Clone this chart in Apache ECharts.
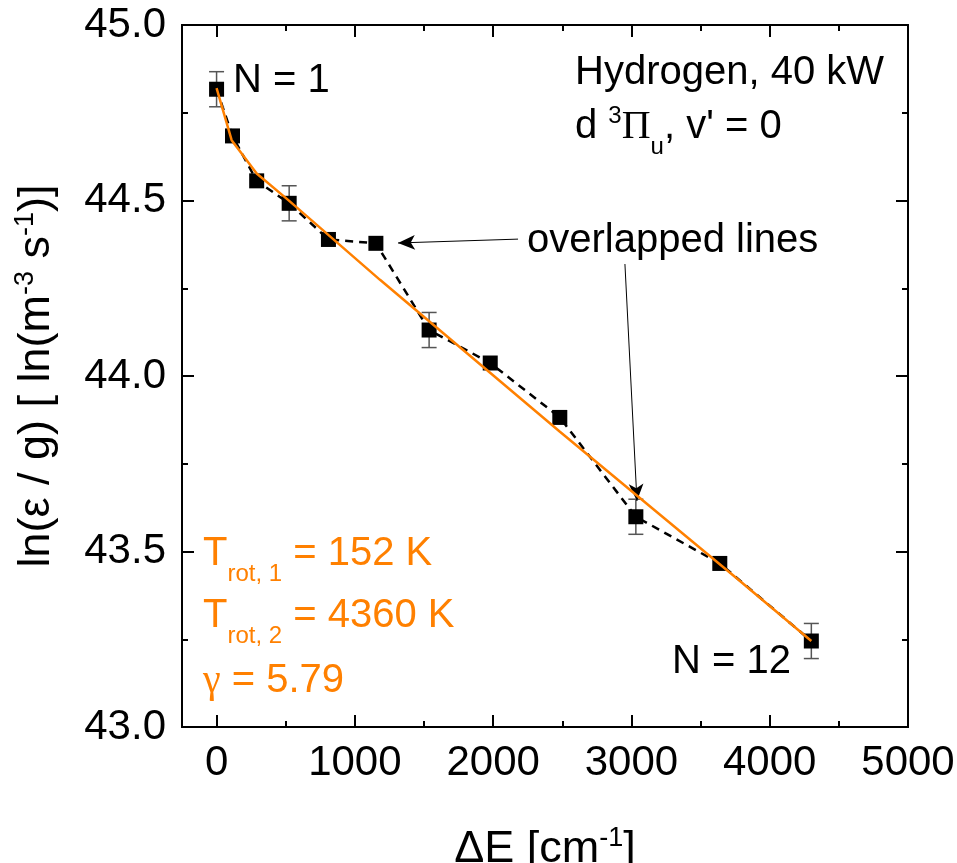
<html>
<head>
    <meta charset="utf-8">
    <script src="https://cdn.jsdelivr.net/npm/echarts@6.0.0/dist/echarts.min.js"></script>
    <style>
        html, body { margin: 0; padding: 0; background: #fff; }
        #main { width: 957px; height: 863px; }
    </style>
</head>
<body>
    <div id="main"></div>
    <script>
        // measured points, N = 1 ... 12
        var deltaE = [0, 115, 290, 525, 809, 1152, 1537, 1979, 2482, 3032, 3639, 4301];
        var lnEps = [44.817, 44.684, 44.556, 44.492, 44.389, 44.378, 44.131, 44.037, 43.882, 43.599, 43.466, 43.245];
        var errBar = [0.05, 0, 0, 0.05, 0, 0, 0.05, 0, 0, 0.05, 0, 0.05];

        // two-temperature fit (orange)
        var fitE = [0, 109, 290, 519, 1182, 2483, 3761, 4301];
        var fitLn = [44.82, 44.672, 44.577, 44.501, 44.274, 43.841, 43.424, 43.245];

        var xMajor = [0, 1000, 2000, 3000, 4000, 5000];
        var xMinor = [500, 1500, 2500, 3500, 4500];

        var FONT = 'Liberation Sans';
        var ORANGE = '#ff8000';

        var myChart = echarts.init(document.getElementById('main'));

        var points = deltaE.map(function (e, i) { return [e, lnEps[i]]; });
        var fit = fitE.map(function (e, i) { return [e, fitLn[i]]; });
        var bars = [];
        deltaE.forEach(function (e, i) {
            if (errBar[i] > 0) bars.push([e, lnEps[i] - errBar[i], lnEps[i] + errBar[i]]);
        });

        // rich styles for sub / superscripts (axis names use color, graphic text uses fill)
        function richSet(size, color, supSize, supPad) {
            function s(o) { o.color = color; o.fill = color; o.verticalAlign = 'top'; return o; }
            return {
                m: s({ fontSize: size, fontFamily: FONT, padding: [4, 0, 0, 0] }),
                g: s({ fontSize: size, fontFamily: 'Liberation Serif', padding: [4, 0, 0, 0] }),
                p: s({ fontSize: supSize || 24, fontFamily: FONT, padding: [supPad || 1, 0, 0, 0] }),
                b: s({ fontSize: 24, fontFamily: FONT, padding: [32, 0, 0, 0] })
            };
        }

        function xAxisCfg(pos, ticks, len, labels) {
            return {
                type: 'value', position: pos, min: -250, max: 5000,
                axisLine: { show: true, onZero: false, lineStyle: { color: '#000', width: 2 } },
                axisTick: { show: true, inside: true, length: len, customValues: ticks, lineStyle: { color: '#000', width: 2 } },
                axisLabel: labels ? {
                    show: true, customValues: ticks, fontSize: 42, fontFamily: FONT, color: '#000', margin: 15,
                    formatter: function (v) { return String(v); }
                } : { show: false },
                splitLine: { show: false }
            };
        }

        function yAxisCfg(pos, labels) {
            return {
                type: 'value', position: pos, min: 43, max: 45, interval: 0.5,
                axisLine: { show: true, onZero: false, lineStyle: { color: '#000', width: 2 } },
                axisTick: { show: true, inside: true, length: 12, lineStyle: { color: '#000', width: 2 } },
                minorTick: { show: true, splitNumber: 2, length: 6, lineStyle: { color: '#000', width: 2 } },
                axisLabel: labels ? {
                    show: true, fontSize: 42, fontFamily: FONT, color: '#000', margin: 16,
                    formatter: function (v) { return v.toFixed(1); }
                } : { show: false },
                splitLine: { show: false }
            };
        }

        var xBottom = xAxisCfg('bottom', xMajor, 12, true);
        xBottom.name = '{m|ΔE [cm}{p|-1}{m|]}';
        xBottom.nameLocation = 'middle';
        xBottom.nameGap = 96;
        xBottom.nameTextStyle = { rich: richSet(45, '#000', 27, 2) };

        var yLeft = yAxisCfg('left', true);
        yLeft.name = '{m|ln(ε / g) [ ln(m}{p|-3}{m| s}{p|-1}{m|)]}';
        yLeft.nameLocation = 'middle';
        yLeft.nameGap = 123;
        yLeft.nameTextStyle = { rich: richSet(45, '#000', 27, 2) };

        function txt(x, y, text, color) {
            return {
                type: 'text', x: x, y: y - 24, z: 100,
                style: { text: text, rich: richSet(40, color), fill: color, align: 'left', verticalAlign: 'top' }
            };
        }

        var option = {
            animation: false,
            backgroundColor: '#fff',
            grid: { left: 182, right: 49, top: 25, bottom: 136, outerBoundsMode: 'none' },
            xAxis: [
                xBottom,
                xAxisCfg('top', xMajor, 12, false),
                xAxisCfg('bottom', xMinor, 6, false),
                xAxisCfg('top', xMinor, 6, false)
            ],
            yAxis: [yLeft, yAxisCfg('right', false)],
            series: [
                {
                    name: 'dashed', type: 'line', data: points, symbol: 'none', z: 2,
                    lineStyle: { color: '#000', width: 2.5, type: [8, 6] }
                },
                {
                    name: 'errors', type: 'custom', data: bars, z: 3,
                    renderItem: function (params, api) {
                        var x = api.value(0);
                        var top = api.coord([x, api.value(2)]);
                        var bot = api.coord([x, api.value(1)]);
                        var w = 7.5;
                        var st = { stroke: '#555', lineWidth: 1.5 };
                        return {
                            type: 'group', children: [
                                { type: 'line', shape: { x1: top[0], y1: top[1], x2: bot[0], y2: bot[1] }, style: st },
                                { type: 'line', shape: { x1: top[0] - w, y1: top[1], x2: top[0] + w, y2: top[1] }, style: st },
                                { type: 'line', shape: { x1: bot[0] - w, y1: bot[1], x2: bot[0] + w, y2: bot[1] }, style: st }
                            ]
                        };
                    }
                },
                {
                    name: 'points', type: 'scatter', data: points, symbol: 'rect', symbolSize: 15, z: 4,
                    itemStyle: { color: '#000', opacity: 1 }
                },
                {
                    name: 'fit', type: 'line', data: fit, symbol: 'none', z: 5,
                    lineStyle: { color: ORANGE, width: 2.5 },
                    markLine: {
                        silent: true, symbol: ['none', 'arrow'], symbolSize: [11, 17],
                        label: { show: false },
                        lineStyle: { color: '#000', width: 1, type: 'solid' },
                        data: [
                            [{ coord: [2180, 44.39] }, { coord: [1312, 44.379] }],
                            [{ coord: [2953, 44.319] }, { coord: [3040, 43.644] }]
                        ]
                    }
                }
            ],
            graphic: [
                txt(233, 81, '{m|N = 1}', '#000'),
                txt(575, 73, '{m|Hydrogen, 40 kW}', '#000'),
                txt(575, 127, '{m|d }{p|3}{g|Π}{b|u}{m|, v\' = 0}', '#000'),
                txt(527, 241, '{m|overlapped lines}', '#000'),
                txt(672, 662, '{m|N = 12}', '#000'),
                txt(203, 554, '{m|T}{b|rot, 1}{m| = 152 K}', ORANGE),
                txt(203, 616, '{m|T}{b|rot, 2}{m| = 4360 K}', ORANGE),
                txt(203, 681, '{g|γ}{m| = 5.79}', ORANGE)
            ]
        };

        myChart.setOption(option);
    </script>
</body>
</html>
